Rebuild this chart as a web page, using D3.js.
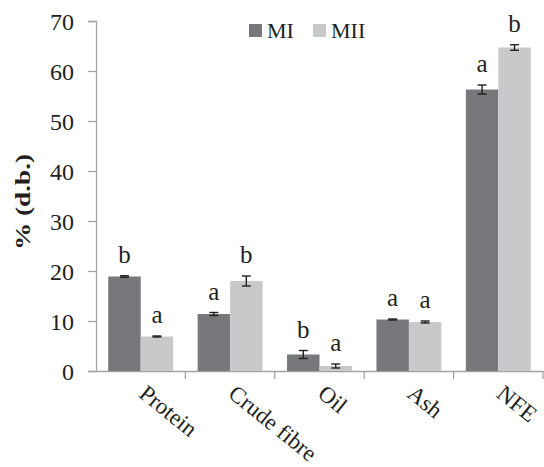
<!DOCTYPE html>
<html>
<head>
<meta charset="utf-8">
<script src="https://cdn.jsdelivr.net/npm/d3@7"></script>
<style>
  body { margin: 0; background: #fff; }
  svg { display: block; }
  text { font-family: "Liberation Serif", "Times New Roman", serif; fill: #231f20; }
</style>
</head>
<body>
<svg id="chart" width="544" height="467"></svg>
<script>
// Proximate composition (% dry basis) of the two samples
const categories = ["Protein", "Crude fibre", "Oil", "Ash", "NFE"];
const seriesNames = ["MI", "MII"];
const valuesMI  = [18.9, 11.4, 3.3, 10.3, 56.3];
const valuesMII = [6.9, 18.0, 1.0, 9.8, 64.7];
const errorsMI  = [0.15, 0.3, 0.8, 0.1, 0.9];
const errorsMII = [0.1, 1.0, 0.4, 0.2, 0.55];
const lettersMI  = ["b", "a", "b", "a", "a"];
const lettersMII = ["a", "b", "a", "a", "b"];
const yTicks = [0, 10, 20, 30, 40, 50, 60, 70];
const colors = ["#77787c", "#c8c9cb"];

const rows = categories.map((c, i) => ({
  cat: c,
  bars: [
    { s: seriesNames[0], v: valuesMI[i],  e: errorsMI[i],  l: lettersMI[i] },
    { s: seriesNames[1], v: valuesMII[i], e: errorsMII[i], l: lettersMII[i] }
  ]
}));

const svg = d3.select("#chart");
const plotLeft = 96, plotRight = 543, plotTop = 21, plotBottom = 371;

const x = d3.scaleBand().domain(categories).range([plotLeft, plotRight]);
const xs = d3.scaleBand().domain(seriesNames).range([0, x.bandwidth()]).paddingInner(0).paddingOuter(0.377);
const y = d3.scaleLinear().domain([0, 70]).range([plotBottom, plotTop]);

// y axis
const yAxis = svg.append("g").attr("transform", `translate(${plotLeft},0)`)
  .call(d3.axisLeft(y).tickValues(yTicks).tickSize(8).tickPadding(14));
yAxis.select(".domain").attr("stroke", "#a3a3a3").attr("stroke-width", 1.3);
yAxis.selectAll(".tick line").attr("stroke", "#a3a3a3").attr("stroke-width", 1.3);
yAxis.selectAll(".tick text").attr("font-size", 24).attr("font-family", "Liberation Serif")
  .attr("fill", "#231f20").attr("dy", "0.34em");

// x axis
const xAxis = svg.append("g").attr("transform", `translate(0,${plotBottom})`)
  .call(d3.axisBottom(x).tickSize(0).tickFormat(""));
xAxis.select(".domain").attr("stroke", "#a3a3a3").attr("stroke-width", 1.3);
const bounds = categories.map(c => x(c) + x.bandwidth());
svg.append("g").selectAll("line").data(bounds).join("line")
  .attr("x1", d => d).attr("x2", d => d)
  .attr("y1", plotBottom).attr("y2", plotBottom + 8)
  .attr("stroke", "#a3a3a3").attr("stroke-width", 1.3);

// category labels, rotated
svg.append("g").selectAll("text").data(categories).join("text")
  .attr("transform", d => `translate(${x(d) + x.bandwidth() / 2 - 3},${plotBottom + 25}) rotate(39)`)
  .attr("font-size", 23)
  .text(d => d);

// bars
const groups = svg.append("g").selectAll("g").data(rows).join("g")
  .attr("transform", d => `translate(${x(d.cat)},0)`);

groups.selectAll("rect").data(d => d.bars).join("rect")
  .attr("x", d => xs(d.s))
  .attr("y", d => y(d.v))
  .attr("width", xs.bandwidth())
  .attr("height", d => y(0) - y(d.v))
  .attr("fill", (d, i) => colors[i]);

// error bars
const cap = 4.5;
const eb = groups.selectAll("g.err").data(d => d.bars).join("g").attr("class", "err")
  .attr("stroke", "#231f20").attr("stroke-width", 1.4);
eb.append("line")
  .attr("x1", d => xs(d.s) + xs.bandwidth() / 2).attr("x2", d => xs(d.s) + xs.bandwidth() / 2)
  .attr("y1", d => y(d.v - d.e)).attr("y2", d => y(d.v + d.e));
eb.append("line")
  .attr("x1", d => xs(d.s) + xs.bandwidth() / 2 - cap).attr("x2", d => xs(d.s) + xs.bandwidth() / 2 + cap)
  .attr("y1", d => y(d.v + d.e)).attr("y2", d => y(d.v + d.e));
eb.append("line")
  .attr("x1", d => xs(d.s) + xs.bandwidth() / 2 - cap).attr("x2", d => xs(d.s) + xs.bandwidth() / 2 + cap)
  .attr("y1", d => y(d.v - d.e)).attr("y2", d => y(d.v - d.e));

// significance letters
groups.selectAll("text.sig").data(d => d.bars).join("text").attr("class", "sig")
  .attr("x", d => xs(d.s) + xs.bandwidth() / 2)
  .attr("y", d => y(d.v + d.e) - 13)
  .attr("text-anchor", "middle")
  .attr("font-size", 25)
  .text(d => d.l);

// y axis title
svg.append("text")
  .attr("transform", "translate(30,202) rotate(-90)")
  .attr("text-anchor", "middle")
  .attr("font-size", 22)
  .attr("font-weight", "bold")
  .attr("textLength", 96)
  .attr("lengthAdjust", "spacingAndGlyphs")
  .text("% (d.b.)");

// legend
const legend = svg.append("g").selectAll("g").data(seriesNames).join("g")
  .attr("transform", (d, i) => `translate(${249 + i * 64},24)`);
legend.append("rect").attr("width", 13).attr("height", 13).attr("fill", (d, i) => colors[i]);
legend.append("text").attr("x", 18).attr("y", 14).attr("font-size", 22).text(d => d);
</script>
</body>
</html>
